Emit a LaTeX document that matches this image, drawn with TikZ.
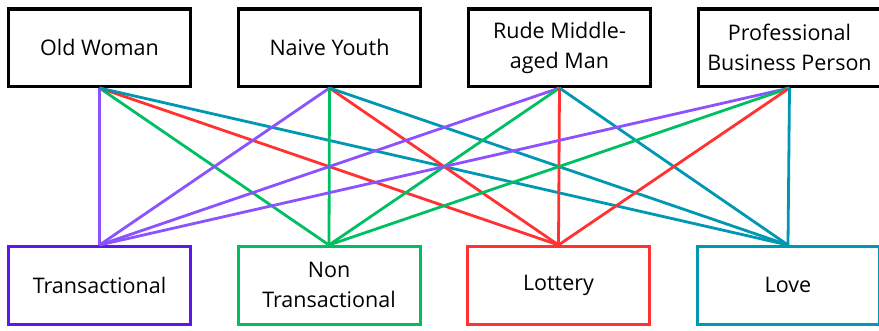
\documentclass[tikz,border=0pt]{standalone}
\usepackage{fontspec}
\setmainfont{Open Sans}
\usetikzlibrary{positioning}
\definecolor{transpurple}{HTML}{5E17EB}
\definecolor{tiepurple}{HTML}{8C52FF}
\definecolor{nongreen}{HTML}{00BF63}
\definecolor{lotteryred}{HTML}{FF3131}
\definecolor{loveteal}{HTML}{0097B2}
\tikzset{
  who/.style={rectangle, draw=black, line width=3.5pt,
              minimum width=182pt, minimum height=77.5pt,
              align=center, inner sep=2pt,
              font=\fontsize{21.5}{30}\selectfont},
  kind/.style={who, line width=3pt},
  tie/.style={line width=2.8pt},
}

\begin{document}
\begin{tikzpicture}[node distance=44.5pt and 44.5pt]
  \useasboundingbox (0,0) rectangle (879pt,-330pt);
  % characters
  \node[who] (ow) at (99.5pt,-47.5pt) {Old Woman};
  \node[who, right=of ow] (ny) {Naive Youth};
  \node[who, right=of ny] (rm) {Rude Middle-\\aged Man};
  \node[who, right=of rm] (pb) {Professional\\Business Person};

  % kinds of deal
  \node[kind, draw=transpurple, below=157pt of ow] (tr) {Transactional};
  \node[kind, draw=nongreen, right=of tr] (nt) {Non\\Transactional};
  \node[kind, draw=lotteryred, right=of nt] (lo) {Lottery};
  \node[kind, draw=loveteal, right=of lo] (lv) {Love};

  \foreach \w in {ow, ny, rm, pb} {
    \draw[tie, tiepurple]  (\w.south) -- (tr.north);
    \draw[tie, nongreen]   (\w.south) -- (nt.north);
    \draw[tie, lotteryred] (\w.south) -- (lo.north);
    \draw[tie, loveteal]   (\w.south) -- (lv.north);
  }
\end{tikzpicture}
\end{document}
